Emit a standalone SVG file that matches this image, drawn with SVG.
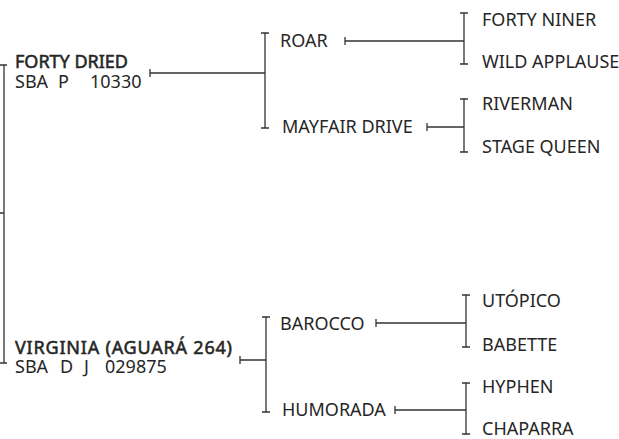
<svg xmlns="http://www.w3.org/2000/svg" width="619" height="439" viewBox="0 0 619 439">
<style>
text{font-family:"Noto Sans","Open Sans","DejaVu Sans",sans-serif;font-size:18px;fill:#262626}
.b{stroke:#262626;stroke-width:0.55}
line,path{stroke:#333;stroke-width:1.3;fill:none}
</style>
<rect width="619" height="439" fill="#fff"/>
<g id="connectors">
<path d="M0 65H7M4 65V363M0 363H7M4 213H0"/>
<path d="M150 69V77M150 73H265M261 33H269M265 33V128M261 128H269"/>
<path d="M345 37V45M345 41H464M460 13H468M464 13V64M460 64H468"/>
<path d="M427 123V131M427 127H464M460 99H468M464 99V152M460 152H468"/>
<path d="M240 356V364M240 360H266M262 317H270M266 317V412M262 412H270"/>
<path d="M376 319V327M376 323H466M462 295H470M466 295V347M462 347H470"/>
<path d="M395 406V414M395 410H466M462 383H470M466 383V434M462 434H470"/>
</g>
<g id="forty-dried"><text x="15" y="68" class="b" textLength="113" lengthAdjust="spacing">FORTY DRIED</text><text y="88"><tspan x="15">SBA</tspan><tspan x="58">P</tspan><tspan x="90">10330</tspan></text></g>
<g id="virginia"><text x="15" y="354" class="b" textLength="217" lengthAdjust="spacing">VIRGINIA (AGUARÁ 264)</text><text y="373"><tspan x="15">SBA</tspan><tspan x="60">D</tspan><tspan x="84">J</tspan><tspan x="105">029875</tspan></text></g>
<g id="roar"><text x="280" y="47">ROAR</text></g>
<g id="mayfair-drive"><text x="282" y="133">MAYFAIR DRIVE</text></g>
<g id="barocco"><text x="280" y="330">BAROCCO</text></g>
<g id="humorada"><text x="282" y="416">HUMORADA</text></g>
<g id="forty-niner"><text x="482" y="26">FORTY NINER</text></g>
<g id="wild-applause"><text x="482" y="68">WILD APPLAUSE</text></g>
<g id="riverman"><text x="482" y="110">RIVERMAN</text></g>
<g id="stage-queen"><text x="482" y="153">STAGE QUEEN</text></g>
<g id="utopico"><text x="482" y="307">UTÓPICO</text></g>
<g id="babette"><text x="482" y="351">BABETTE</text></g>
<g id="hyphen"><text x="482" y="393">HYPHEN</text></g>
<g id="chaparra"><text x="482" y="435">CHAPARRA</text></g>
</svg>
